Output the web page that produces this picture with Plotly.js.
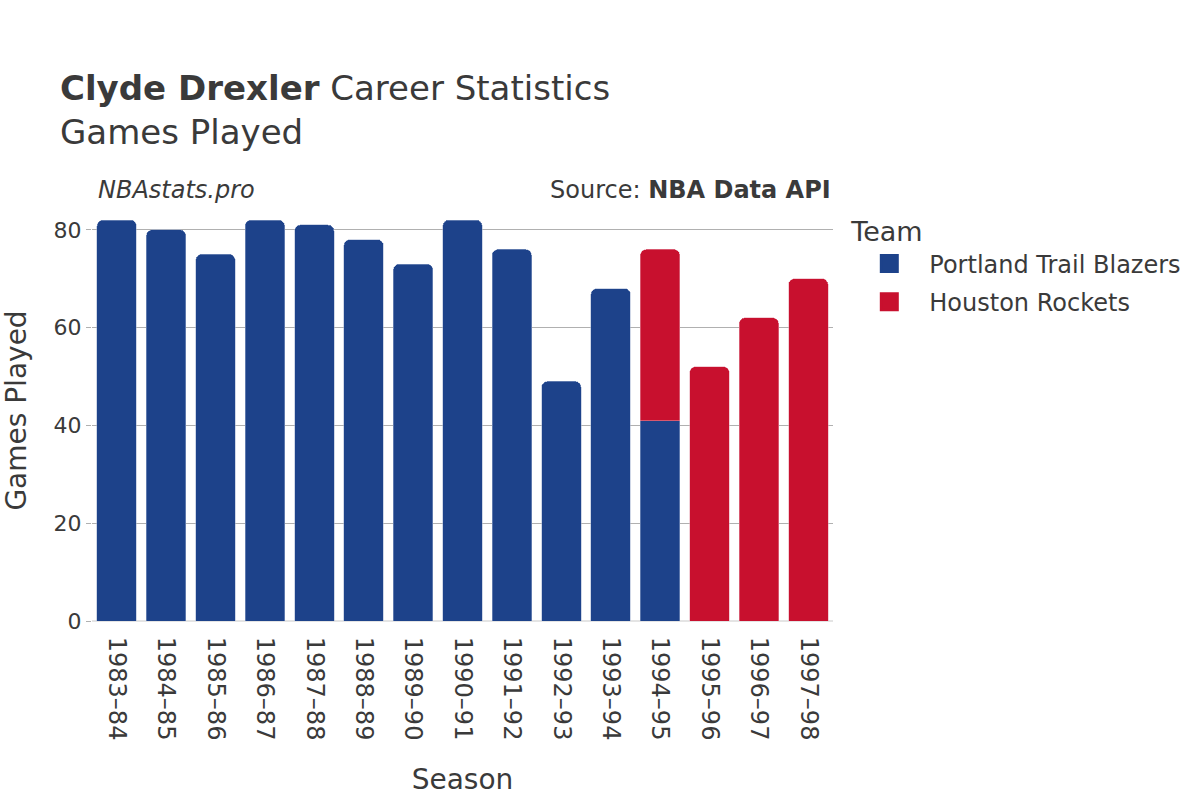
<!DOCTYPE html>
<html>
<head>
<meta charset="utf-8">
<script src="https://cdn.plot.ly/plotly-3.0.1.min.js"></script>
<style>
  body { margin: 0; }
  #chart { width: 1200px; height: 800px; }
</style>
</head>
<body>
<div id="chart"></div>
<script>
// Clyde Drexler - games played per season, split by team

var seasons = ['1983–84', '1984–85', '1985–86', '1986–87', '1987–88', '1988–89', '1989–90',
  '1990–91', '1991–92', '1992–93', '1993–94', '1994–95', '1995–96', '1996–97', '1997–98'];

var portlandGames = [82, 80, 75, 82, 81, 78, 73, 82, 76, 49, 68, 41, null, null, null];
var houstonGames = [null, null, null, null, null, null, null, null, null, null, null, 35, 52, 62, 70];

var teams = ['Portland Trail Blazers', 'Houston Rockets'];
var teamColors = ['#1D428A', '#C8102E'];

var textColor = '#3a3a3a';

var portland = {
  x: seasons,
  y: portlandGames,
  type: 'bar',
  name: teams[0],
  legendgroup: teams[0],
  showlegend: false,
  marker: { color: teamColors[0], line: { color: '#9fb0d0', width: 0.5 } }
};

var houston = {
  x: seasons,
  y: houstonGames,
  type: 'bar',
  name: teams[1],
  legendgroup: teams[1],
  showlegend: false,
  marker: { color: teamColors[1], line: { color: '#e8a0b0', width: 0.5 } }
};

// legend-only entries so the swatches come out bigger than plotly's bar swatch
var legendEntries = teams.map(function (t, i) {
  return {
    x: [null], y: [null],
    type: 'scatter',
    mode: 'markers',
    name: t,
    legendgroup: t,
    marker: { symbol: 'square', size: 16, color: teamColors[i], line: { color: teamColors[i], width: 3 } }
  };
});

var layout = {
  width: 1200,
  height: 800,
  barmode: 'stack',
  bargap: 0.2,
  barcornerradius: 6,
  plot_bgcolor: 'white',
  paper_bgcolor: 'white',
  font: { family: 'DejaVu Sans', color: textColor, size: 22 },
  margin: { l: 92, r: 367, t: 200, b: 179 },
  title: {
    text: '<b>Clyde Drexler</b> Career Statistics<br>Games Played',
    x: 0.05,
    xanchor: 'left',
    y: 0.875,
    yanchor: 'top',
    font: { size: 34, color: textColor }
  },
  xaxis: {
    title: { text: 'Season', font: { size: 28 }, standoff: 29 },
    tickangle: 90,
    tickfont: { size: 24 },
    showgrid: false,
    showline: false,
    ticks: 'outside',
    ticklen: 10,
    tickcolor: 'rgba(0,0,0,0)'
  },
  yaxis: {
    title: { text: 'Games Played', font: { size: 28 }, standoff: 18 },
    range: [0, 86.1],
    tickvals: [0, 20, 40, 60, 80],
    tickfont: { size: 22 },
    showgrid: true,
    gridcolor: '#b0b0b0',
    zeroline: true,
    zerolinecolor: '#e4e4e4',
    zerolinewidth: 2,
    ticks: 'outside',
    tickcolor: '#b0b0b0',
    ticklen: 5
  },
  legend: {
    title: { text: 'Team', font: { size: 27 } },
    font: { size: 24 },
    traceorder: 'grouped',
    itemwidth: 70,
    x: 1.022,
    xanchor: 'left',
    y: 0.985,
    yanchor: 'top',
    tracegroupgap: 4
  },
  annotations: [
    {
      text: '<i>NBAstats.pro</i>',
      xref: 'paper', yref: 'paper',
      x: 0.005, y: 1.0, yshift: -6,
      xanchor: 'left', yanchor: 'bottom',
      showarrow: false,
      font: { size: 24, color: textColor }
    },
    {
      text: 'Source: <b>NBA Data API</b>',
      xref: 'paper', yref: 'paper',
      x: 1.0, y: 1.0, yshift: -6,
      xanchor: 'right', yanchor: 'bottom',
      showarrow: false,
      font: { size: 24, color: textColor }
    }
  ]
};

Plotly.newPlot('chart', [portland, houston].concat(legendEntries), layout, { displayModeBar: false });
</script>
</body>
</html>
